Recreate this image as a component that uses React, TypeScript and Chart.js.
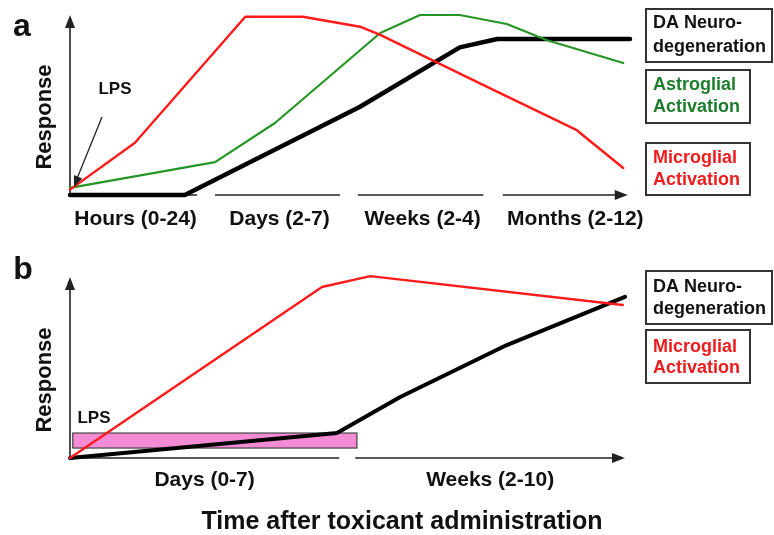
import React, { useEffect, useRef } from "react";
import { Chart, registerables } from "chart.js";

Chart.register(...registerables);

// ---------- Panel a (x: relative time 0-100, y: response 0-100) ----------
const aMicroX = [0, 11.6, 31.3, 41.6, 51.8, 55.4, 73.2, 90.5, 98.8];
const aMicroY = [3, 29, 99, 99, 93.5, 89, 62, 36, 15];
const aAstroX = [0, 25.9, 36.6, 55.4, 62.5, 69.6, 78, 85.2, 98.8];
const aAstroY = [4, 18.3, 40, 90, 100, 100, 95, 86, 73.3];
const aNeuroX = [0, 20.5, 51.8, 69.6, 76.3, 100];
const aNeuroY = [0, 0, 49, 82, 86.7, 86.7];
const aTickLabels = ["Hours (0-24)", "Days (2-7)", "Weeks (2-4)", "Months (2-12)"];
const aTickStart = [0, 25.9, 51.4, 77.3];
const aTickEnd = [22.7, 48.2, 73.8, 99.6];

// ---------- Panel b ----------
const bMicroX = [0, 45.4, 54.1, 99.6];
const bMicroY = [0, 94.5, 100.5, 84.5];
const bNeuroX = [0, 48.1, 59.5, 78.7, 100];
const bNeuroY = [0, 13.8, 33.7, 62.4, 89];
const bTickLabels = ["Days (0-7)", "Weeks (2-10)"];
const bTickStart = [0, 51.4];
const bTickEnd = [48.5, 100];
const bLpsRange = [0.5, 51.7];
const bLpsLevel = [5.5, 13.8];

const legendA = [
  { lines: ["DA Neuro-", "degeneration"], color: "#111111" },
  { lines: ["Astroglial", "Activation"], color: "#1e7d2c" },
  { lines: ["Microglial", "Activation"], color: "#ee1c1c" },
];
const legendB = [
  { lines: ["DA Neuro-", "degeneration"], color: "#111111" },
  { lines: ["Microglial", "Activation"], color: "#ee1c1c" },
];

const RED = "#ff1a1a";
const GREEN = "#259525";
const BLACK = "#000000";
const AXIS = "#222222";
const FONT = "'Liberation Sans', Arial, sans-serif";

const pts = (xs: number[], ys: number[]) => xs.map((x, i) => ({ x, y: ys[i] }));

function arrowHead(ctx: CanvasRenderingContext2D, x: number, y: number, angle: number, len: number, half: number) {
  ctx.save();
  ctx.translate(x, y);
  ctx.rotate(angle);
  ctx.beginPath();
  ctx.moveTo(0, 0);
  ctx.lineTo(-len, -half);
  ctx.lineTo(-len, half);
  ctx.closePath();
  ctx.fill();
  ctx.restore();
}

function text(ctx: CanvasRenderingContext2D, s: string, x: number, y: number, size: number, color: string, align: CanvasTextAlign = "center") {
  ctx.save();
  ctx.font = `bold ${size}px ${FONT}`;
  ctx.fillStyle = color;
  ctx.textAlign = align;
  ctx.textBaseline = "middle";
  ctx.fillText(s, x, y);
  ctx.restore();
}

type Box = { x: number; y: number; w: number; h: number; lines: string[]; color: string; ly: number[] };

function drawBoxes(ctx: CanvasRenderingContext2D, boxes: Box[]) {
  boxes.forEach((b) => {
    ctx.save();
    ctx.strokeStyle = "#333";
    ctx.lineWidth = 2;
    ctx.strokeRect(b.x, b.y, b.w, b.h);
    ctx.restore();
    b.lines.forEach((l, i) => text(ctx, l, b.x + 7, b.ly[i], 18, b.color, "left"));
  });
}

function makePanelPlugin(panel: "a" | "b") {
  return {
    id: "panel" + panel,
    beforeDatasetsDraw(chart: any) {
      const ctx: CanvasRenderingContext2D = chart.ctx;
      const xs = chart.scales.x;
      const ys = chart.scales.y;
      const x0 = xs.getPixelForValue(0);
      const y0 = ys.getPixelForValue(0);
      const yTop = ys.getPixelForValue(100);
      ctx.save();
      ctx.strokeStyle = AXIS;
      ctx.fillStyle = AXIS;
      ctx.lineWidth = 1.6;
      // y axis with arrow
      ctx.beginPath();
      ctx.moveTo(x0, y0);
      ctx.lineTo(x0, yTop + 8);
      ctx.stroke();
      arrowHead(ctx, x0, yTop, -Math.PI / 2, 13, 5);
      const starts = panel === "a" ? aTickStart : bTickStart;
      const ends = panel === "a" ? aTickEnd : bTickEnd;
      const labels = panel === "a" ? aTickLabels : bTickLabels;
      starts.forEach((s, i) => {
        const xa = xs.getPixelForValue(s);
        const xb = xs.getPixelForValue(ends[i]);
        const last = i === starts.length - 1;
        ctx.beginPath();
        ctx.moveTo(xa, y0);
        ctx.lineTo(last ? xb - 8 : xb, y0);
        ctx.stroke();
        if (last) arrowHead(ctx, xb, y0, 0, 13, 5);
      });
      if (panel === "b") {
        const lx0 = xs.getPixelForValue(bLpsRange[0]);
        const lx1 = xs.getPixelForValue(bLpsRange[1]);
        const ly0 = ys.getPixelForValue(bLpsLevel[1]);
        const ly1 = ys.getPixelForValue(bLpsLevel[0]);
        ctx.fillStyle = "#f38bd5";
        ctx.fillRect(lx0, ly0, lx1 - lx0, ly1 - ly0);
        ctx.strokeStyle = "#444";
        ctx.lineWidth = 1.2;
        ctx.strokeRect(lx0, ly0, lx1 - lx0, ly1 - ly0);
      }
      ctx.restore();
      // tick labels
      starts.forEach((s, i) => {
        const xm = (xs.getPixelForValue(s) + xs.getPixelForValue(ends[i])) / 2;
        const off = panel === "a" ? 24 : 22;
        text(ctx, labels[i], panel === "a" ? xm + 2 + (i === 3 ? 8 : 0) : xm, y0 + off, 21, "#111");
      });
    },
    afterDraw(chart: any) {
      const ctx: CanvasRenderingContext2D = chart.ctx;
      const xs = chart.scales.x;
      const ys = chart.scales.y;
      const x0 = xs.getPixelForValue(0);
      const y0 = ys.getPixelForValue(0);
      // Response label
      ctx.save();
      ctx.translate(45, panel === "a" ? 117 : 140);
      ctx.rotate(-Math.PI / 2);
      text(ctx, "Response", 0, 0, 22, "#111");
      ctx.restore();
      if (panel === "a") {
        text(ctx, "a", 22, 27, 32, "#111");
        text(ctx, "LPS", 115, 89, 17, "#111");
        ctx.save();
        ctx.strokeStyle = "#222";
        ctx.fillStyle = "#222";
        ctx.lineWidth = 1.3;
        const ax = 102, ay = 117, bx = x0 + 4, by = y0 - 8;
        ctx.beginPath();
        ctx.moveTo(ax, ay);
        ctx.lineTo(bx + 2, by - 6);
        ctx.stroke();
        arrowHead(ctx, bx, by, Math.atan2(by - ay, bx - ax), 11, 4.5);
        ctx.restore();
        drawBoxes(ctx, [
          { x: 646, y: 9, w: 126, h: 53, lines: legendA[0].lines, color: legendA[0].color, ly: [23, 47] },
          { x: 646, y: 70, w: 104, h: 53, lines: legendA[1].lines, color: legendA[1].color, ly: [85, 107] },
          { x: 646, y: 143, w: 104, h: 52, lines: legendA[2].lines, color: legendA[2].color, ly: [158, 180] },
        ]);
      } else {
        text(ctx, "b", 23, 30, 32, "#111");
        text(ctx, "LPS", 94, 178, 17, "#111");
        text(ctx, "Time after toxicant administration", 402, 282, 25, "#111");
        drawBoxes(ctx, [
          { x: 646, y: 31, w: 126, h: 53, lines: legendB[0].lines, color: legendB[0].color, ly: [47, 69] },
          { x: 646, y: 90, w: 104, h: 53, lines: legendB[1].lines, color: legendB[1].color, ly: [107, 128] },
        ]);
      }
    },
  };
}

function useChart(ref: React.RefObject<HTMLCanvasElement>, panel: "a" | "b") {
  useEffect(() => {
    if (!ref.current) return;
    const datasets =
      panel === "a"
        ? [
            { label: "Microglial Activation", data: pts(aMicroX, aMicroY), borderColor: RED, borderWidth: 2.4 },
            { label: "Astroglial Activation", data: pts(aAstroX, aAstroY), borderColor: GREEN, borderWidth: 2.2 },
            { label: "DA Neurodegeneration", data: pts(aNeuroX, aNeuroY), borderColor: BLACK, borderWidth: 4.5 },
          ]
        : [
            { label: "Microglial Activation", data: pts(bMicroX, bMicroY), borderColor: RED, borderWidth: 2.4 },
            { label: "DA Neurodegeneration", data: pts(bNeuroX, bNeuroY), borderColor: BLACK, borderWidth: 4 },
          ];
    const padding =
      panel === "a"
        ? { left: 70, right: 144, top: 15, bottom: 45 }
        : { left: 70, right: 149, top: 37, bottom: 77 };
    const chart = new Chart(ref.current, {
      type: "line",
      data: { datasets: datasets.map((d) => ({ ...d, fill: false, tension: 0, pointRadius: 0, clip: false, borderJoinStyle: "round" as const, borderCapStyle: "round" as const })) },
      options: {
        animation: false,
        responsive: false,
        devicePixelRatio: 1,
        layout: { padding },
        scales: {
          x: { type: "linear", min: 0, max: 100, display: false },
          y: { type: "linear", min: 0, max: 100, display: false },
        },
        plugins: { legend: { display: false }, tooltip: { enabled: false } },
      },
      plugins: [makePanelPlugin(panel)],
    });
    return () => chart.destroy();
  }, []);
}

export default function App() {
  const refA = useRef<HTMLCanvasElement>(null);
  const refB = useRef<HTMLCanvasElement>(null);
  useChart(refA, "a");
  useChart(refB, "b");
  return (
    <div style={{ position: "fixed", left: 0, top: 0, width: 774, height: 535, background: "#fff" }}>
      <canvas ref={refA} width={774} height={240} style={{ position: "absolute", left: 0, top: 0, width: 774, height: 240 }} />
      <canvas ref={refB} width={774} height={295} style={{ position: "absolute", left: 0, top: 240, width: 774, height: 295 }} />
    </div>
  );
}
